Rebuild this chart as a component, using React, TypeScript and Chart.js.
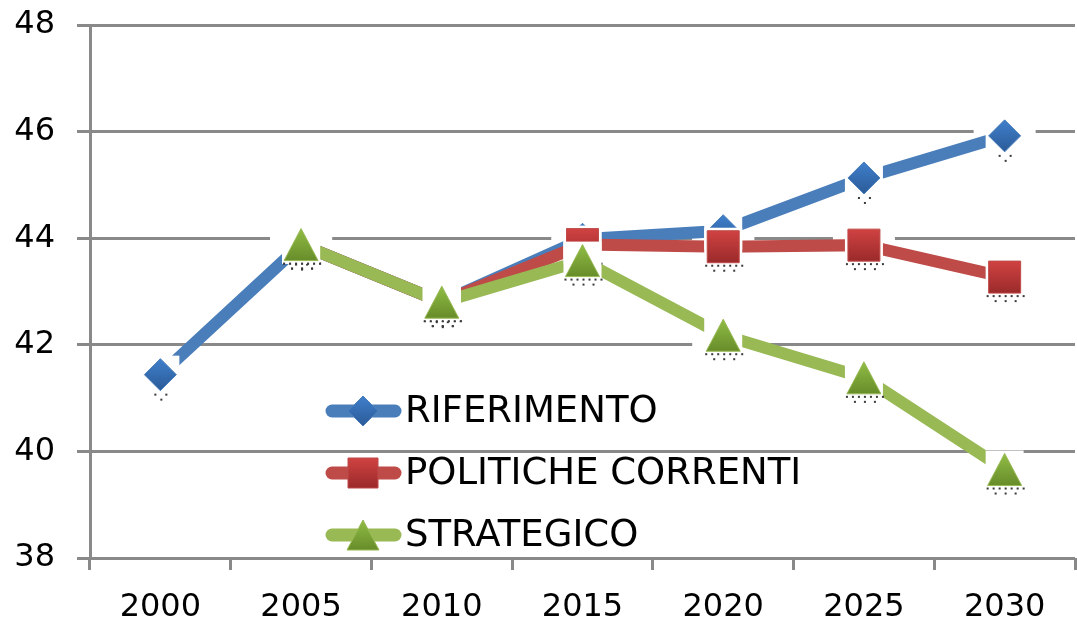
import React, { useEffect, useRef } from 'react';
import { Chart, registerables } from 'chart.js';

Chart.register(...registerables);

const categories = ['2000', '2005', '2010', '2015', '2020', '2025', '2030'];
const riferimento = [41.44, 43.88, 42.8, 43.98, 44.14, 45.13, 45.92];
const politicheCorrenti = [null, 43.88, 42.8, 43.88, 43.84, 43.87, 43.27];
const strategico = [null, 43.88, 42.8, 43.58, 42.18, 41.38, 39.66];

const seriesNames = ['RIFERIMENTO', 'POLITICHE CORRENTI', 'STRATEGICO'];
const seriesValues = [riferimento, politicheCorrenti, strategico];
const lineColors = ['#4a7ebb', '#be4b48', '#98b954'];
const markerTop = ['#3f7fcb', '#d04242', '#90bd45'];
const markerBottom = ['#2b5b98', '#9b2a2a', '#678c2a'];
const markerShapes = ['diamond', 'square', 'triangle'];

const yMin = 38;
const yMax = 48;
const yStep = 2;

const GRID = '#898989';
const FONT = "'DejaVu Sans', Verdana, sans-serif";

function drawMarker(ctx: CanvasRenderingContext2D, shape: string, x: number, y: number, s: number, idx: number) {
  const g = ctx.createLinearGradient(x, y - s, x, y + s);
  g.addColorStop(0, markerTop[idx]);
  g.addColorStop(1, markerBottom[idx]);
  ctx.save();
  ctx.fillStyle = g;
  ctx.strokeStyle = lineColors[idx];
  ctx.lineWidth = 1;
  ctx.beginPath();
  if (shape === 'diamond') {
    ctx.moveTo(x, y - s);
    ctx.lineTo(x + s, y);
    ctx.lineTo(x, y + s);
    ctx.lineTo(x - s, y);
    ctx.closePath();
  } else if (shape === 'square') {
    ctx.rect(x - s, y - s, 2 * s, 2 * s);
  } else {
    ctx.moveTo(x, y - s);
    ctx.lineTo(x + s + 1, y + s);
    ctx.lineTo(x - s - 1, y + s);
    ctx.closePath();
  }
  ctx.fill();
  ctx.stroke();
  ctx.restore();
}

function drawLabelDots(ctx: CanvasRenderingContext2D, shape: string, x: number, y: number) {
  ctx.save();
  ctx.fillStyle = '#3a3a3a';
  if (shape === 'diamond') {
    ctx.fillRect(x - 6, y + 19, 2, 2);
    ctx.fillRect(x + 5, y + 19, 2, 2);
    ctx.fillRect(x, y + 24, 2, 2);
  } else {
    for (let k = 0; k < 7; k++) ctx.fillRect(x - 18 + k * 6, y + 18, 2, 2);
    for (let k = 0; k < 3; k++) ctx.fillRect(x - 10 + k * 10, y + 23, 2, 2);
  }
  ctx.restore();
}

const markersPlugin = {
  id: 'excelMarkers',
  beforeDatasetsDraw(chart: any) {
    // white data-label backgrounds that interrupt the gridlines
    const ctx: CanvasRenderingContext2D = chart.ctx;
    chart.data.datasets.forEach((ds: any, i: number) => {
      const meta = chart.getDatasetMeta(i);
      meta.data.forEach((pt: any, j: number) => {
        if (ds.data[j] === null || ds.data[j] === undefined) return;
        const { x, y } = pt.getProps(['x', 'y'], true);
        ctx.save();
        ctx.fillStyle = '#ffffff';
        ctx.fillRect(x - 31, y - 14, 62, 30);
        ctx.restore();
      });
    });
  },
  afterDatasetsDraw(chart: any) {
    const ctx: CanvasRenderingContext2D = chart.ctx;
    chart.data.datasets.forEach((ds: any, i: number) => {
      const meta = chart.getDatasetMeta(i);
      meta.data.forEach((pt: any, j: number) => {
        if (ds.data[j] === null || ds.data[j] === undefined) return;
        const { x, y } = pt.getProps(['x', 'y'], true);
        ctx.save();
        ctx.fillStyle = '#ffffff';
        ctx.fillRect(x - 19, y - 19, 38, 38);
        ctx.restore();
        drawMarker(ctx, markerShapes[i], x, y, 16, i);
        drawLabelDots(ctx, markerShapes[i], x, y);
      });
    });
  },
};

const legendPlugin = {
  id: 'insideLegend',
  afterDraw(chart: any) {
    const ctx: CanvasRenderingContext2D = chart.ctx;
    const area = chart.chartArea;
    const x0 = area.left + 242;
    const rows = [area.top + 386, area.top + 448, area.top + 510];
    seriesNames.forEach((name, i) => {
      const y = rows[i];
      ctx.save();
      ctx.strokeStyle = lineColors[i];
      ctx.lineWidth = 13;
      ctx.lineCap = 'round';
      ctx.beginPath();
      ctx.moveTo(x0, y);
      ctx.lineTo(x0 + 63, y);
      ctx.stroke();
      ctx.restore();
      drawMarker(ctx, markerShapes[i], x0 + 31, y, 15, i);
      ctx.save();
      ctx.fillStyle = '#000000';
      ctx.font = `37px ${FONT}`;
      ctx.textBaseline = 'middle';
      ctx.textAlign = 'left';
      ctx.fillText(name, x0 + 73, y + 1);
      ctx.restore();
    });
  },
};

export default function App() {
  const canvasRef = useRef<HTMLCanvasElement | null>(null);

  useEffect(() => {
    if (!canvasRef.current) return;
    const chart = new Chart(canvasRef.current, {
      type: 'line',
      data: {
        labels: categories,
        datasets: seriesValues.map((vals, i) => ({
          label: seriesNames[i],
          data: vals,
          borderColor: lineColors[i],
          backgroundColor: lineColors[i],
          borderWidth: 12,
          pointRadius: 0,
          pointHitRadius: 0,
          tension: 0,
          fill: false,
          spanGaps: false,
          order: 3 - i,
        })),
      },
      options: {
        animation: false,
        responsive: true,
        maintainAspectRatio: false,
        layout: { padding: { top: 25, right: 2, left: 0, bottom: 0 } },
        plugins: {
          legend: { display: false },
          tooltip: { enabled: false },
          title: { display: false },
        },
        scales: {
          x: {
            offset: true,
            grid: {
              display: true,
              drawOnChartArea: false,
              drawTicks: true,
              tickLength: 12,
              offset: true,
              color: GRID,
              lineWidth: 3,
            },
            border: { display: false },
            ticks: {
              color: '#000',
              font: { family: FONT, size: 32 },
              padding: 18,
              maxRotation: 0,
              autoSkip: false,
            },
            afterFit(scale: any) {
              scale.height = 62;
              scale.paddingLeft = 0;
              scale.paddingRight = 0;
            },
          },
          y: {
            min: yMin,
            max: yMax,
            grid: {
              color: GRID,
              lineWidth: 3,
              tickLength: 13,
              drawTicks: true,
            },
            border: { display: true, color: GRID, width: 3 },
            ticks: {
              stepSize: yStep,
              color: '#000',
              font: { family: FONT, size: 32 },
              padding: 22,
            },
            afterFit(scale: any) {
              scale.width = 90;
              scale.paddingTop = 0;
              scale.paddingBottom = 0;
            },
          },
        },
      },
      plugins: [markersPlugin, legendPlugin],
    });
    return () => chart.destroy();
  }, []);

  return (
    <div style={{ position: 'fixed', left: 0, top: 0, width: 1077, height: 620, background: '#fff' }}>
      <canvas ref={canvasRef} />
    </div>
  );
}
